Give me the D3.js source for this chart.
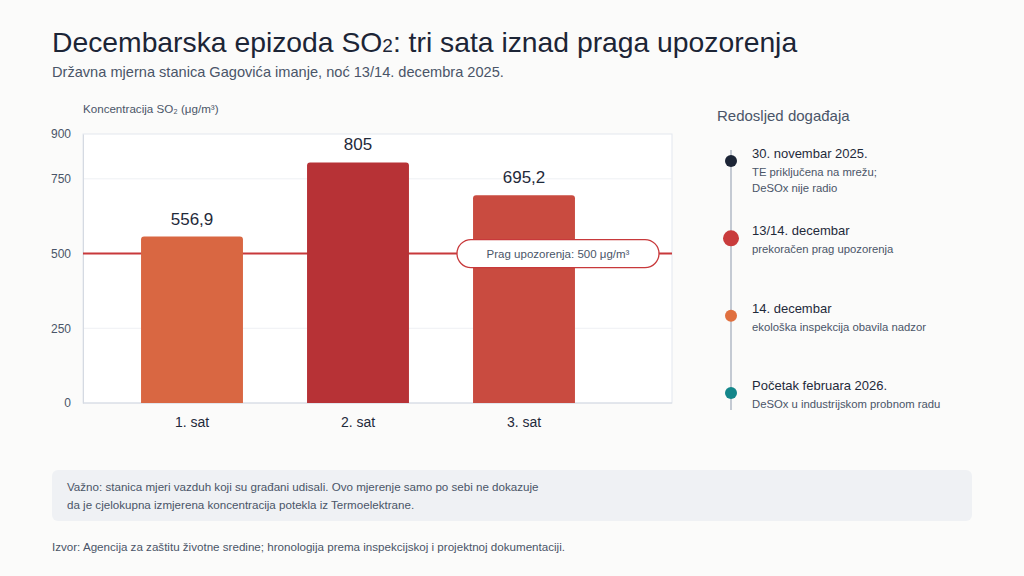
<!DOCTYPE html>
<html lang="sr">
<head>
  <meta charset="UTF-8">
  <title>Decembarska epizoda SO2</title>
  <script src="https://d3js.org/d3.v7.min.js"></script>
  <style>
    html, body { margin: 0; padding: 0; background: #fbfbfa; }
    svg { display: block; font-family: "Liberation Sans", Arial, sans-serif; }
  </style>
</head>
<body>
  <script>
    // Podaci
    const hours = ['1. sat', '2. sat', '3. sat'];
    const so2Values = [556.9, 805, 695.2];
    const yTicks = [0, 250, 500, 750, 900];
    const threshold = 500;

    const eventDates = ['30. novembar 2025.', '13/14. decembar', '14. decembar', 'Početak februara 2026.'];
    const eventNotes = [
      ['TE priključena na mrežu;', 'DeSOx nije radio'],
      ['prekoračen prag upozorenja'],
      ['ekološka inspekcija obavila nadzor'],
      ['DeSOx u industrijskom probnom radu']
    ];

    const W = 1024, H = 576;
    const barColors = ['#d96742', '#b73236', '#c94b40'];
    const eventColors = ['#1c2536', '#c93c3c', '#e0703f', '#13868a'];
    const eventRadius = [6, 8, 6, 6];
    const fmt = v => String(v).replace('.', ',');

    const svg = d3.select('body').append('svg')
      .attr('width', W)
      .attr('height', H);

    svg.append('rect').attr('width', W).attr('height', H).attr('fill', '#fbfbfa');

    // Naslov
    const title = svg.append('text')
      .attr('x', 52).attr('y', 52)
      .attr('font-size', 28.3)
      .attr('fill', '#1c2536');
    title.append('tspan').text('Decembarska epizoda SO');
    title.append('tspan').attr('font-size', 19).text('2');
    title.append('tspan').text(': tri sata iznad praga upozorenja');

    svg.append('text')
      .attr('x', 52).attr('y', 77)
      .attr('font-size', 14.6)
      .attr('fill', '#4a5568')
      .text('Državna mjerna stanica Gagovića imanje, noć 13/14. decembra 2025.');

    // Grafikon
    const plot = { left: 83, right: 672, top: 134, bottom: 403 };

    const y = d3.scaleLinear()
      .domain([0, 900])
      .range([plot.bottom, plot.top]);

    const x = d3.scaleBand()
      .domain(hours)
      .range([109, 607])
      .paddingInner(0.386)
      .paddingOuter(0.193);

    svg.append('text')
      .attr('x', 83).attr('y', 113)
      .attr('font-size', 11.6)
      .attr('fill', '#4a5568')
      .text('Koncentracija SO₂ (μg/m³)');

    svg.append('rect')
      .attr('x', plot.left).attr('y', plot.top)
      .attr('width', plot.right - plot.left)
      .attr('height', plot.bottom - plot.top)
      .attr('fill', '#ffffff')
      .attr('stroke', '#e3e7ee');

    // Mreža
    svg.append('g')
      .selectAll('line')
      .data(yTicks.filter(d => d > 0 && d < 900))
      .join('line')
      .attr('x1', plot.left).attr('x2', plot.right)
      .attr('y1', d => y(d)).attr('y2', d => y(d))
      .attr('stroke', '#eef0f4');

    const yAxis = svg.append('g')
      .attr('transform', `translate(${plot.left},0)`)
      .call(d3.axisLeft(y).tickValues(yTicks).tickSize(0).tickPadding(12));
    yAxis.select('.domain').attr('stroke', '#d5dae2');
    yAxis.selectAll('text')
      .attr('font-size', 12)
      .attr('font-family', '"Liberation Sans", Arial, sans-serif')
      .attr('fill', '#4a5568');

    svg.append('line')
      .attr('x1', plot.left).attr('x2', plot.right)
      .attr('y1', plot.bottom).attr('y2', plot.bottom)
      .attr('stroke', '#d5dae2');

    // Prag
    svg.append('line')
      .attr('x1', plot.left).attr('x2', plot.right)
      .attr('y1', y(threshold)).attr('y2', y(threshold))
      .attr('stroke', '#c8393b')
      .attr('stroke-width', 2);

    // Stubovi
    svg.append('g')
      .selectAll('path')
      .data(hours)
      .join('path')
      .attr('d', (d, i) => {
        const x0 = x(d), w = x.bandwidth(), y0 = y(so2Values[i]), r = 3;
        return `M${x0},${plot.bottom}V${y0 + r}Q${x0},${y0} ${x0 + r},${y0}H${x0 + w - r}Q${x0 + w},${y0} ${x0 + w},${y0 + r}V${plot.bottom}Z`;
      })
      .attr('fill', (d, i) => barColors[i]);

    svg.append('g')
      .selectAll('text')
      .data(hours)
      .join('text')
      .attr('x', d => x(d) + x.bandwidth() / 2)
      .attr('y', (d, i) => y(so2Values[i]) - 12)
      .attr('text-anchor', 'middle')
      .attr('font-size', 17)
      .attr('fill', '#1f2a3a')
      .text((d, i) => fmt(so2Values[i]));

    const xAxis = svg.append('g')
      .attr('transform', `translate(0,${plot.bottom})`)
      .call(d3.axisBottom(x).tickSize(0).tickPadding(14));
    xAxis.select('.domain').remove();
    xAxis.selectAll('text')
      .attr('font-size', 14)
      .attr('font-family', '"Liberation Sans", Arial, sans-serif')
      .attr('fill', '#1f2a3a');

    // Oznaka praga
    const pill = svg.append('g')
      .attr('transform', `translate(558,${y(threshold)})`);
    pill.append('rect')
      .attr('x', -101).attr('y', -14)
      .attr('width', 202).attr('height', 28)
      .attr('rx', 14)
      .attr('fill', '#ffffff')
      .attr('stroke', '#c8393b')
      .attr('stroke-width', 1.3);
    pill.append('text')
      .attr('text-anchor', 'middle')
      .attr('dy', '0.35em')
      .attr('font-size', 11.5)
      .attr('fill', '#4a5568')
      .text('Prag upozorenja: ' + threshold + ' μg/m³');

    // Hronologija
    svg.append('text')
      .attr('x', 717).attr('y', 121)
      .attr('font-size', 15)
      .attr('fill', '#4a5568')
      .text('Redosljed događaja');

    const ty = d3.scalePoint()
      .domain(d3.range(eventDates.length))
      .range([158, 390]);

    svg.append('line')
      .attr('x1', 731).attr('x2', 731)
      .attr('y1', 150).attr('y2', 410)
      .attr('stroke', '#c4cad3')
      .attr('stroke-width', 2);

    const ev = svg.append('g')
      .selectAll('g')
      .data(eventDates)
      .join('g')
      .attr('transform', (d, i) => `translate(0,${ty(i)})`);

    ev.append('circle')
      .attr('cx', 731).attr('cy', 3)
      .attr('r', (d, i) => eventRadius[i])
      .attr('fill', (d, i) => eventColors[i]);

    ev.append('text')
      .attr('x', 752)
      .attr('font-size', 13)
      .attr('fill', '#1f2a3a')
      .text(d => d);

    ev.each(function (d, i) {
      d3.select(this).selectAll('text.note')
        .data(eventNotes[i])
        .join('text')
        .attr('class', 'note')
        .attr('x', 752)
        .attr('y', (n, j) => 18 + j * 15.5)
        .attr('font-size', 11.3)
        .attr('fill', '#4a5568')
        .text(n => n);
    });

    // Napomena
    svg.append('rect')
      .attr('x', 52).attr('y', 470)
      .attr('width', 920).attr('height', 51)
      .attr('rx', 6)
      .attr('fill', '#eff1f4');

    svg.append('g')
      .selectAll('text')
      .data([
        'Važno: stanica mjeri vazduh koji su građani udisali. Ovo mjerenje samo po sebi ne dokazuje',
        'da je cjelokupna izmjerena koncentracija potekla iz Termoelektrane.'
      ])
      .join('text')
      .attr('x', 67)
      .attr('y', (d, i) => 491 + i * 18)
      .attr('font-size', 11.6)
      .attr('fill', '#4a5568')
      .text(d => d);

    svg.append('text')
      .attr('x', 52).attr('y', 551)
      .attr('font-size', 11.6)
      .attr('fill', '#4a5568')
      .text('Izvor: Agencija za zaštitu životne sredine; hronologija prema inspekcijskoj i projektnoj dokumentaciji.');
  </script>
</body>
</html>
